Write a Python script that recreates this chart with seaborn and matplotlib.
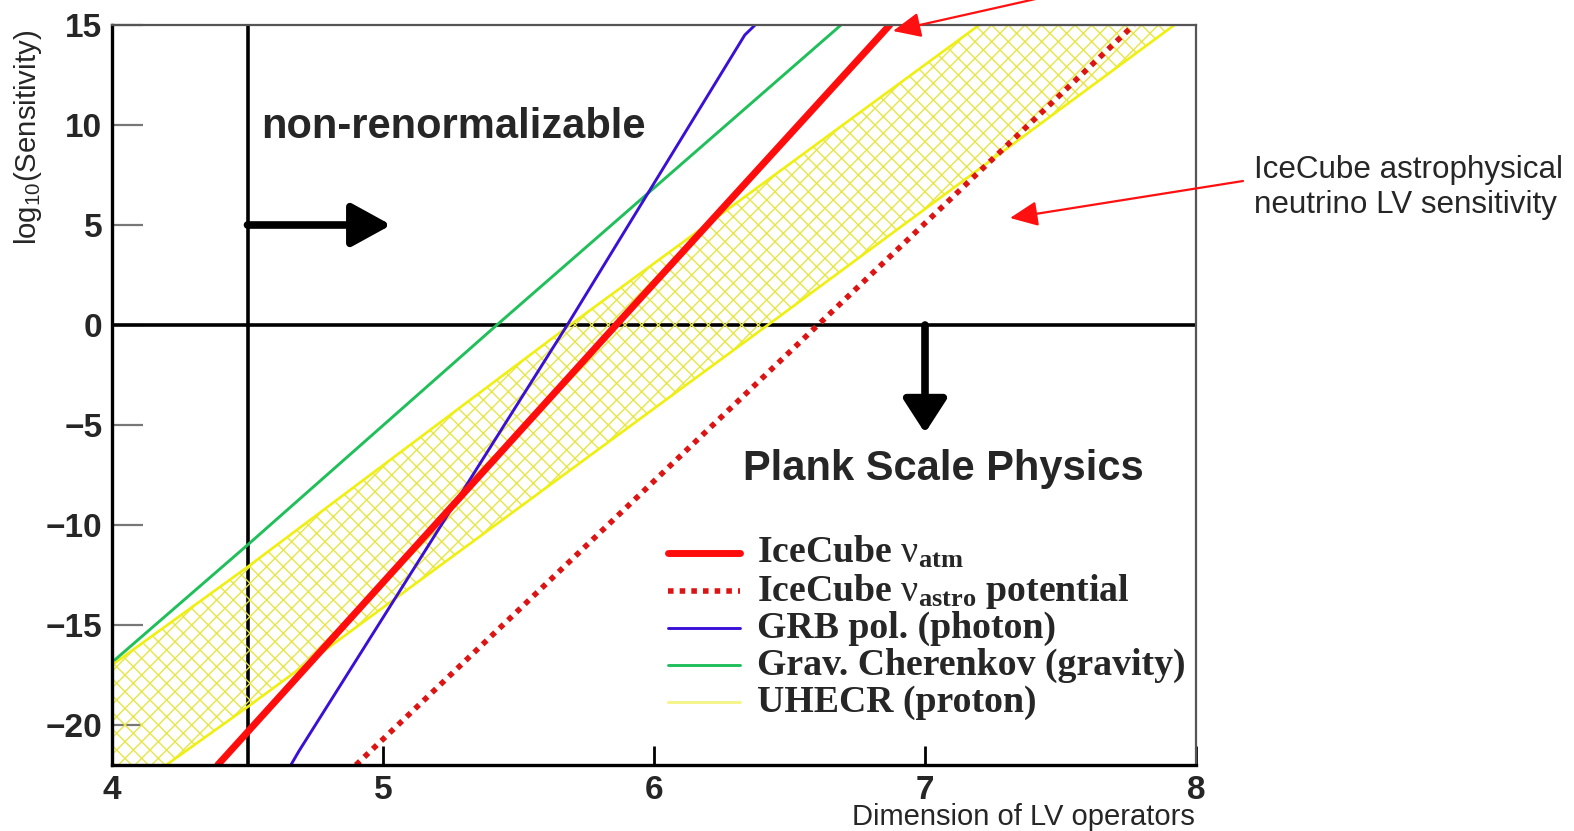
import numpy as np
import pandas as pd
import matplotlib
matplotlib.use("Agg")
import matplotlib.pyplot as plt
import seaborn as sns
from matplotlib.lines import Line2D

# ---------------- data ----------------
atm_x = [4.39, 5.86, 6.87]
atm_y = [-22.0, 0.0, 15.0]

astro_x = [4.90, 6.605, 7.77]
astro_y = [-22.0, 0.0, 15.0]

grb_x = [4.66, 4.69, 5.68, 6.335, 6.373]
grb_y = [-22.0, -21.3, 0.0, 14.5, 15.0]

grav_x = [4.01, 4.50, 5.42, 6.69]
grav_y = [-16.75, -11.0, 0.0, 15.0]

uhecr_up_x = [4.00, 4.50, 5.69, 7.20]
uhecr_up_y = [-17.0, -12.1, 0.0, 15.0]
uhecr_lo_x = [4.20, 4.50, 6.42, 7.92]
uhecr_lo_y = [-22.0, -19.1, 0.0, 15.0]

x_ticks = [4, 5, 6, 7, 8]
y_ticks = [15, 10, 5, 0, -5, -10, -15, -20]

legend_labels = [r"IceCube $\mathrm{\nu}_{\mathbf{atm}}$",
                 r"IceCube $\mathrm{\nu}_{\mathbf{astro}}$ potential",
                 "GRB pol. (photon)",
                 "Grav. Cherenkov (gravity)",
                 "UHECR (proton)"]

# ---------------- style ----------------
sns.set_style("white")
plt.rcParams["font.family"] = ["Liberation Sans", "DejaVu Sans"]
plt.rcParams["mathtext.fontset"] = "custom"
plt.rcParams["mathtext.rm"] = "Liberation Serif"
plt.rcParams["mathtext.bf"] = "Liberation Serif:bold"
plt.rcParams["mathtext.it"] = "Liberation Serif:italic"
plt.rcParams["mathtext.sf"] = "Liberation Sans"
plt.rcParams["hatch.linewidth"] = 1.0

W, H = 1574, 831
fig = plt.figure(figsize=(W / 100, H / 100), dpi=100)
ax = fig.add_axes([112 / W, 1 - 765 / H, 1084 / W, 740 / H])

XMIN, XMAX, YMIN, YMAX = 4, 8, -22, 15

c_red = "#ff0d0d"
c_red_dot = "#dc1414"
c_blue = "#3a10d8"
c_green = "#1fbf5a"
c_yellow = "#f0f010"
c_hatch = "#e6e64a"

# reference lines
ax.axvline(4.5, color="black", lw=2.6, zorder=1)
ax.axhline(0, color="black", lw=2.6, zorder=1)

# UHECR band (hatched polygon)
poly_x = uhecr_up_x + uhecr_lo_x[::-1] + [XMIN]
poly_y = uhecr_up_y + uhecr_lo_y[::-1] + [YMIN]
ax.fill(poly_x, poly_y, facecolor="none", edgecolor=c_hatch, hatch="xx",
        linewidth=0, zorder=2)

sns.lineplot(x=uhecr_up_x, y=uhecr_up_y, ax=ax, color=c_yellow, lw=1.9,
             sort=False, estimator=None, zorder=3)
sns.lineplot(x=uhecr_lo_x, y=uhecr_lo_y, ax=ax, color=c_yellow, lw=1.9,
             sort=False, estimator=None, zorder=3)

sns.lineplot(x=grav_x, y=grav_y, ax=ax, color=c_green, lw=2.1,
             sort=False, estimator=None, zorder=4)
sns.lineplot(x=grb_x, y=grb_y, ax=ax, color=c_blue, lw=2.1,
             sort=False, estimator=None, zorder=4)
sns.lineplot(x=astro_x, y=astro_y, ax=ax, color=c_red_dot, lw=4.0,
             linestyle=(0, (1, 1.1)), sort=False, estimator=None, zorder=4)
sns.lineplot(x=atm_x, y=atm_y, ax=ax, color=c_red, lw=5.0,
             sort=False, estimator=None, zorder=5)

ax.set_xlim(XMIN, XMAX)
ax.set_ylim(YMIN, YMAX)
ax.set_xlabel("")
ax.set_ylabel("")

# spines
for s in ["left", "bottom"]:
    ax.spines[s].set_color("black")
    ax.spines[s].set_linewidth(2.4)
for s in ["top", "right"]:
    ax.spines[s].set_color("#555555")
    ax.spines[s].set_linewidth(1.6)
    ax.spines[s].set_visible(True)
for s in ax.spines.values():
    s.set_zorder(6)

ax.set_xticks(x_ticks)
ax.set_yticks(y_ticks)
ax.set_xticklabels([str(v) for v in x_ticks])
ax.set_yticklabels([str(v).replace("-", "\u2212") for v in y_ticks])
ax.tick_params(axis="x", direction="in", length=14, width=2.0, color="black",
               pad=7, labelsize=24, bottom=True, top=False)
ax.tick_params(axis="y", direction="in", length=22, width=1.6, color="#777777",
               pad=7, labelsize=24, left=True, right=False)
for lab in ax.get_xticklabels() + ax.get_yticklabels():
    lab.set_fontweight("bold")

# arrows inside
ax.annotate("", xy=(5.03, 5), xytext=(4.5, 5),
            arrowprops=dict(arrowstyle="-|>,head_length=1.0,head_width=0.55",
                            mutation_scale=24, lw=5.5, color="black",
                            shrinkA=0, shrinkB=0), zorder=6)
ax.annotate("", xy=(7.0, -5.4), xytext=(7.0, 0),
            arrowprops=dict(arrowstyle="-|>,head_length=0.85,head_width=0.55",
                            mutation_scale=24, lw=5.5, color="black",
                            shrinkA=0, shrinkB=0), zorder=6)

ax.text(4.55, 9.35, "non-renormalizable", fontsize=30, fontweight="bold",
        ha="left", va="baseline")
ax.text(6.33, -7.75, "Plank Scale Physics", fontsize=30, fontweight="bold",
        ha="left", va="baseline")

# manual legend (figure pixel positions)
leg_styles = [dict(color=c_red, lw=5.0, ls="-"),
              dict(color=c_red_dot, lw=4.0, ls=(0, (1, 1.1))),
              dict(color=c_blue, lw=2.1, ls="-"),
              dict(color=c_green, lw=2.1, ls="-"),
              dict(color="#f5f58a", lw=2.1, ls="-")]
handle_y = [553, 591, 628, 665, 702]
for lab, st, hy in zip(legend_labels, leg_styles, handle_y):
    fy = 1 - hy / H
    fig.add_artist(Line2D([668 / W, 740 / W], [fy, fy], transform=fig.transFigure,
                          color=st["color"], lw=st["lw"], linestyle=st["ls"]))
    fig.text(757 / W, 1 - (hy + 10) / H, lab, fontsize=27.2, fontweight="bold",
             family=["Liberation Serif", "DejaVu Serif"], ha="left", va="baseline")

# axis labels
fig.text(28 / W, 1 - 30 / H, r"log$_{\mathsf{10}}$(Sensitivity)", rotation=90,
         ha="center", va="top", fontsize=21.2)
fig.text(1195 / W, 1 - 817 / H, "Dimension of LV operators", ha="right",
         va="center", fontsize=21)

# outside annotations
fig.text(1254 / W, 1 - 178 / H, "IceCube astrophysical", fontsize=22.6,
         ha="left", va="baseline")
fig.text(1254 / W, 1 - 213 / H, "neutrino LV sensitivity", fontsize=22.6,
         ha="left", va="baseline")

red_arrow = dict(arrowstyle="-|>,head_length=1.0,head_width=0.45",
                 mutation_scale=17, lw=1.6, color="#ff1010",
                 shrinkA=0, shrinkB=0)
fig.add_artist(matplotlib.patches.FancyArrowPatch(
    posA=(1243, H - 181), posB=(1010, H - 218), transform=None, **red_arrow))
fig.add_artist(matplotlib.patches.FancyArrowPatch(
    posA=(1040, H + 2), posB=(893, H - 31), transform=None, **red_arrow))

fig.savefig("out.png", dpi=100)
